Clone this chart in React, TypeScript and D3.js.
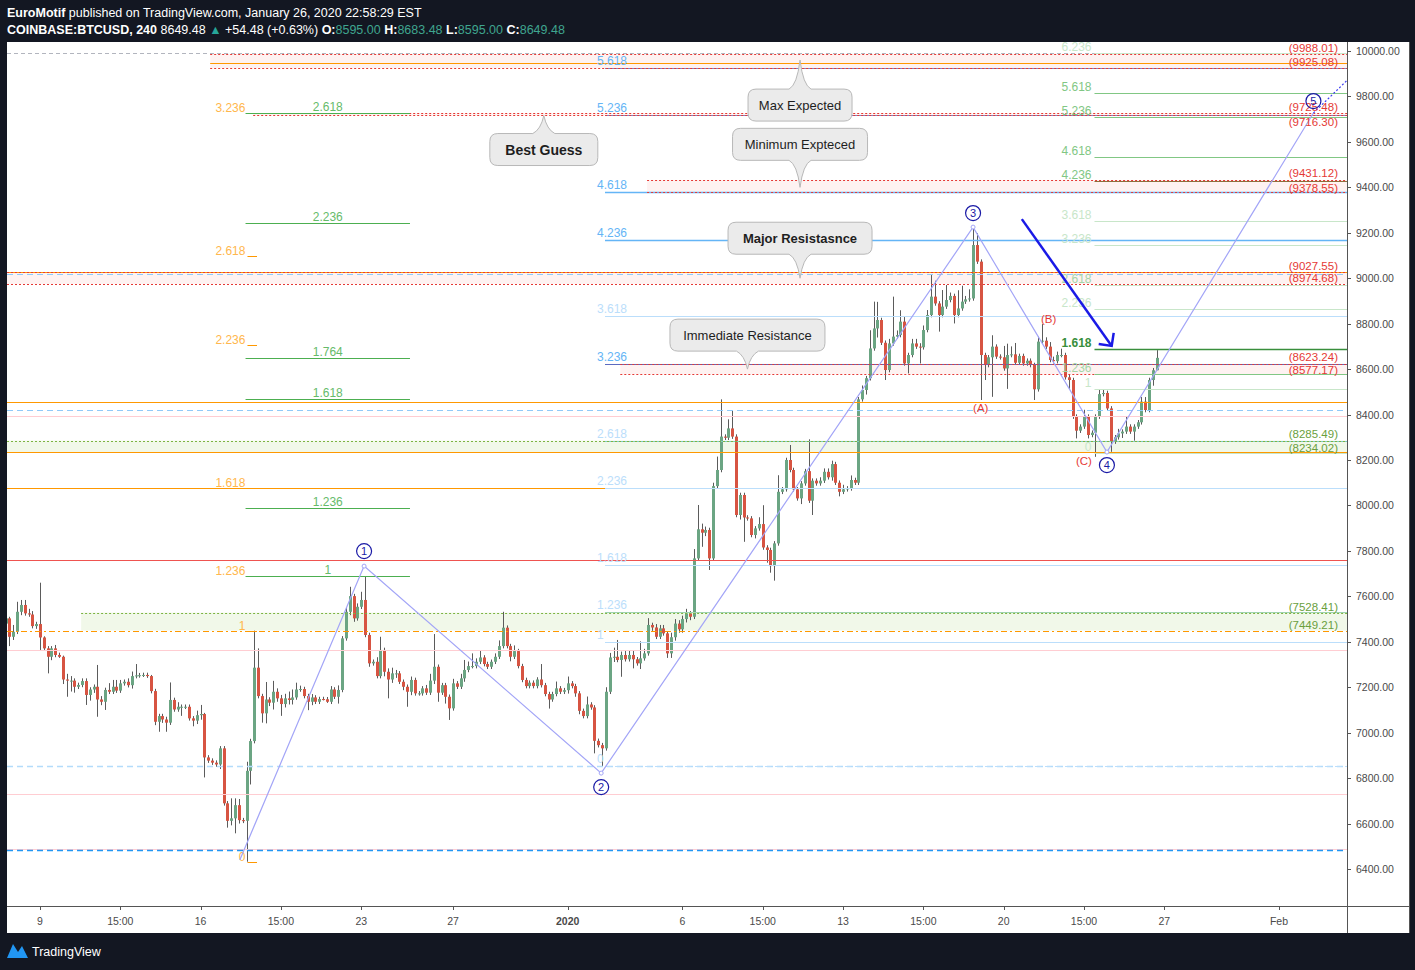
import React, { useEffect } from "react";
import * as d3 from "d3";

const W = 1415;
const H = 970;

// ---------------- candle data (4h bars, BTCUSD) ----------------
const FIRST_OPEN = 7480;
const LAST_BAR_TIME = Date.UTC(2020, 0, 26, 16);
const BAR_HOURS = 4;
const closes = [
  7503, 7422, 7444, 7532, 7562, 7525, 7520, 7469, 7478, 7419, 7371, 7334, 7371, 7342, 7334, 7234, 7229, 7229, 7202, 7210,
  7227, 7166, 7190, 7202, 7146, 7136, 7188, 7180, 7202, 7185, 7217, 7224, 7209, 7249, 7252, 7253, 7254, 7249, 7183, 7048,
  7073, 7058, 7044, 7144, 7102, 7114, 7114, 7114, 7063, 7053, 7077, 7082, 6891, 6877, 6868, 6860, 6931, 6689, 6612, 6623,
  6681, 6615, 6612, 6832, 6963, 7286, 7161, 7085, 7146, 7132, 7180, 7151, 7126, 7151, 7144, 7155, 7190, 7192, 7161, 7136,
  7155, 7136, 7148, 7147, 7136, 7190, 7158, 7188, 7415, 7532, 7601, 7503, 7554, 7584, 7430, 7305, 7312, 7249, 7364, 7268,
  7234, 7261, 7261, 7224, 7202, 7180, 7232, 7173, 7173, 7195, 7176, 7229, 7290, 7176, 7209, 7158, 7107, 7217, 7202, 7239,
  7276, 7293, 7293, 7312, 7331, 7302, 7290, 7312, 7334, 7381, 7462, 7381, 7334, 7359, 7293, 7232, 7205, 7220, 7205, 7234,
  7209, 7170, 7146, 7170, 7195, 7180, 7187, 7217, 7205, 7173, 7096, 7073, 7124, 7111, 6964, 6945, 6931, 7180, 7331, 7334,
  7320, 7342, 7323, 7342, 7323, 7305, 7327, 7349, 7474, 7463, 7422, 7459, 7437, 7349, 7420, 7480, 7455, 7500, 7525, 7510,
  7767, 7895, 7880, 7892, 7767, 8085, 8156, 8303, 8298, 8339, 8303, 7958, 8046, 7947, 7943, 7870, 7899, 7918, 7815, 7804,
  7733, 7833, 8060, 8071, 8200, 8156, 8071, 8031, 8097, 8151, 8021, 8109, 8097, 8109, 8148, 8124, 8182, 8100, 8060, 8071,
  8075, 8112, 8100, 8467, 8508, 8560, 8691, 8779, 8816, 8716, 8596, 8713, 8743, 8750, 8809, 8625, 8662, 8713, 8699, 8696,
  8772, 8838, 8919, 8889, 8838, 8875, 8904, 8922, 8838, 8867, 8897, 8907, 8911, 9146, 9073, 8662, 8618, 8652, 8699, 8655,
  8652, 8603, 8662, 8665, 8628, 8658, 8625, 8637, 8618, 8511, 8721, 8725, 8699, 8640, 8635, 8662, 8662, 8564, 8552, 8391,
  8329, 8347, 8391, 8310, 8320, 8391, 8490, 8495, 8427, 8281, 8300, 8317, 8325, 8347, 8325, 8347, 8366, 8457, 8420, 8552,
  8595, 8649.48,
];
const wickUp = [
  20, 7, 30, 44, 22, 22, 20, 15, 10, 182, 5, 10, 10, 15, 10, 5, 25, 20, 10, 10,
  12, 12, 10, 10, 96, 15, 10, 30, 30, 30, 15, 10, 15, 20, 50, 10, 10, 10, 5, 10,
  10, 10, 12, 77, 10, 20, 10, 10, 10, 10, 20, 40, 5, 10, 10, 10, 10, 10, 10, 88,
  30, 27, 10, 40, 10, 163, 85, 10, 77, 10, 48, 15, 15, 20, 30, 35, 30, 15, 10, 10,
  15, 10, 10, 10, 10, 15, 10, 20, 10, 20, 41, 10, 15, 36, 105, 10, 10, 20, 58, 10,
  15, 25, 15, 10, 10, 10, 15, 10, 10, 10, 15, 30, 144, 10, 10, 10, 10, 20, 10, 20,
  44, 20, 56, 15, 30, 10, 10, 10, 15, 25, 70, 10, 10, 25, 10, 10, 10, 10, 10, 10,
  68, 10, 10, 10, 30, 10, 10, 30, 10, 10, 10, 10, 35, 10, 10, 10, 10, 20, 20, 40,
  74, 15, 20, 20, 20, 10, 75, 20, 30, 10, 15, 15, 15, 10, 20, 20, 15, 15, 20, 10,
  41, 107, 25, 15, 10, 15, 59, 164, 10, 40, 78, 10, 10, 10, 10, 10, 10, 30, 83, 10,
  10, 10, 73, 10, 10, 66, 10, 10, 10, 10, 140, 10, 10, 15, 15, 15, 15, 10, 10, 20,
  10, 20, 10, 10, 20, 10, 80, 118, 80, 10, 10, 20, 176, 20, 50, 20, 10, 20, 20, 15,
  20, 22, 95, 70, 10, 73, 66, 15, 10, 80, 70, 15, 40, 81, 52, 10, 10, 10, 50, 10,
  10, 50, 50, 35, 50, 10, 10, 10, 10, 10, 22, 73, 15, 20, 15, 15, 28, 10, 10, 10,
  10, 10, 30, 10, 10, 10, 18, 15, 10, 10, 10, 20, 10, 43, 10, 10, 10, 20, 20, 10,
  10, 34,
];
const wickDown = [
  20, 41, 14, 10, 15, 10, 10, 10, 12, 55, 7, 73, 15, 10, 5, 20, 71, 48, 26, 10,
  10, 44, 25, 15, 76, 15, 36, 10, 10, 10, 10, 10, 10, 15, 10, 10, 8, 8, 10, 15,
  44, 15, 40, 10, 10, 10, 40, 10, 10, 25, 15, 20, 88, 10, 10, 10, 20, 10, 30, 20,
  66, 15, 10, 180, 60, 10, 10, 41, 44, 15, 30, 15, 52, 15, 20, 20, 10, 10, 10, 37,
  15, 10, 10, 5, 5, 10, 10, 30, 10, 10, 15, 15, 10, 10, 10, 15, 10, 10, 10, 20,
  83, 15, 20, 10, 15, 66, 15, 10, 10, 10, 10, 10, 15, 40, 10, 30, 51, 10, 10, 10,
  15, 10, 10, 10, 10, 10, 10, 10, 10, 10, 10, 10, 20, 10, 10, 10, 10, 10, 10, 10,
  10, 10, 40, 10, 10, 10, 10, 15, 10, 15, 15, 10, 10, 10, 55, 10, 81, 10, 10, 20,
  10, 74, 10, 10, 40, 10, 25, 10, 10, 15, 10, 10, 10, 20, 20, 15, 15, 15, 15, 15,
  10, 10, 62, 15, 51, 10, 10, 10, 10, 10, 10, 10, 20, 107, 10, 10, 15, 10, 10, 56,
  29, 64, 10, 10, 10, 10, 10, 10, 25, 10, 10, 63, 10, 10, 10, 10, 15, 10, 20, 10,
  10, 10, 10, 10, 10, 20, 10, 10, 40, 10, 44, 10, 10, 10, 10, 10, 44, 10, 10, 71,
  10, 10, 10, 10, 73, 10, 10, 10, 37, 10, 10, 10, 10, 10, 10, 198, 66, 10, 174, 10,
  10, 10, 90, 10, 10, 10, 10, 10, 10, 47, 10, 10, 10, 10, 10, 10, 10, 10, 40, 10,
  34, 10, 10, 15, 10, 106, 10, 10, 10, 45, 10, 10, 20, 10, 10, 40, 10, 10, 10, 10,
  25, 0,
];

// ---------------- axes ----------------
const priceTicks = [6400, 6600, 6800, 7000, 7200, 7400, 7600, 7800, 8000, 8200, 8400, 8600, 8800, 9000, 9200, 9400, 9600, 9800, 10000];
const timeTickDates = [
  Date.UTC(2019, 11, 9), Date.UTC(2019, 11, 12, 12), Date.UTC(2019, 11, 16), Date.UTC(2019, 11, 19, 12),
  Date.UTC(2019, 11, 23), Date.UTC(2019, 11, 27), Date.UTC(2020, 0, 1), Date.UTC(2020, 0, 6),
  Date.UTC(2020, 0, 9, 12), Date.UTC(2020, 0, 13), Date.UTC(2020, 0, 16, 12), Date.UTC(2020, 0, 20),
  Date.UTC(2020, 0, 23, 12), Date.UTC(2020, 0, 27), Date.UTC(2020, 1, 1),
];
const timeTickLabels = ["9", "15:00", "16", "15:00", "23", "27", "2020", "6", "15:00", "13", "15:00", "20", "15:00", "27", "Feb"];

// ---------------- Elliott wave count ----------------
const waveDates = [Date.UTC(2019, 11, 17, 17), Date.UTC(2019, 11, 23, 3), Date.UTC(2020, 0, 2, 11), Date.UTC(2020, 0, 18, 16), Date.UTC(2020, 0, 24, 12), Date.UTC(2020, 1, 2, 12)];
const wavePrices = [6440, 7733, 6822, 9225, 8235, 9727];
const waveNames = ["", "1", "2", "3", "4", "5"];
const waveExtDate = Date.UTC(2020, 1, 3, 23);
const waveExtPrice = 9870;

const abcNames = ["(A)", "(B)", "(C)"];
const abcDates = [Date.UTC(2020, 0, 19, 0), Date.UTC(2020, 0, 21, 23), Date.UTC(2020, 0, 23, 12)];
const abcPrices = [8429, 8820, 8196];

const arrowDates = [Date.UTC(2020, 0, 20, 19), Date.UTC(2020, 0, 24, 17)];
const arrowPrices = [9260, 8702];

// ---------------- zones ----------------
const CHART_START = Date.UTC(2019, 11, 1);
const redZoneTop = [9988.01, 9725.48, 9431.12, 9027.55, 8623.24];
const redZoneBottom = [9925.08, 9716.3, 9378.55, 8974.68, 8577.17];
const redZoneStart = [Date.UTC(2019, 11, 16, 10), Date.UTC(2019, 11, 18, 7), Date.UTC(2020, 0, 4, 11), CHART_START, Date.UTC(2020, 0, 3, 7)];
const greenZoneTop = [8285.49, 7528.41];
const greenZoneBottom = [8234.02, 7449.21];
const greenZoneStart = [CHART_START, Date.UTC(2019, 11, 10, 19)];

// ---------------- horizontal lines ----------------
const orangeLinePrices = [9945, 9027.55, 8455, 8234.02, 8078.5];
const orangeLineStart = [Date.UTC(2019, 11, 16, 10), CHART_START, CHART_START, CHART_START, CHART_START];
const orangeDashDotPrices = [7449.21];
const blueDashedPrices = [9018, 8420];
const lightBlueDashedPrices = [6853];
const strongBlueDashedPrices = [6483];
const pinkLinePrices = [8394, 7364, 6730, 6489];
const redLinePrices = [7760];
const grayDashedPrices = [9992];

// ---------------- Fibonacci tools ----------------
const blueFibRatios = [0, 1, 1.236, 1.618, 2.236, 2.618, 3.236, 3.618, 4.236, 4.618, 5.236, 5.618];
const blueFibAnchors = [6854.67, 7401.2];
const blueFibStart = Date.UTC(2020, 0, 2, 15);

const orangeFibRatios = [0, 1, 1.236, 1.618, 2.236, 2.618, 3.236];
const orangeFibAnchors = [6431.2, 7449.21];
const orangeFibStart = Date.UTC(2019, 11, 18, 1);
const orangeFibEnd = Date.UTC(2019, 11, 18, 11);

const leftGreenFibRatios = [1, 1.236, 1.618, 1.764, 2.236, 2.618];
const leftGreenFibAnchors = [6431.2, 7689.6];
const leftGreenFibStart = Date.UTC(2019, 11, 17, 23);
const leftGreenFibEnd = Date.UTC(2019, 11, 25, 3);

const rightFibRatios = [0, 1, 1.236, 1.618, 2.236, 2.618, 3.236, 3.618, 4.236, 4.618, 5.236, 5.618, 6.236];
const rightFibAnchors = [8232, 8514];
const rightFibStart = Date.UTC(2020, 0, 23, 23);

// ---------------- callouts ----------------
const calloutTexts = ["Best Guess", "Max Expected", "Minimum Expteced", "Major Resistasnce", "Immediate Resistance"];
const calloutTipDates = [Date.UTC(2019, 11, 30, 23), Date.UTC(2020, 0, 11, 3), Date.UTC(2020, 0, 11, 3), Date.UTC(2020, 0, 11, 3), Date.UTC(2020, 0, 8, 20)];
const calloutTipPrices = [9716, 9960, 9400, 9000, 8600];

// ---------------- styles ----------------
const FONT = "'Liberation Sans', Arial, sans-serif";
const UP = "#6ba583";
const DOWN = "#d75442";
const WICK = "#5b5b5b";
const calloutStyle = [
  { off: 34, w: 108, bold: true, size: 14 },
  { off: 45, w: 104, bold: false, size: 13 },
  { off: -43, w: 135, bold: false, size: 13 },
  { off: -40, w: 144, bold: true, size: 13 },
  { off: -34, w: 155, bold: false, size: 13 },
];
const waveLabelOffset = [0, -15, 14, -14, 13, -12];
const blueFibLabelColor = ["#bbdefb", "#bbdefb", "#bbdefb", "#bbdefb", "#bbdefb", "#bbdefb", "#64b5f6", "#bbdefb", "#64b5f6", "#64b5f6", "#64b5f6", "#64b5f6"];
const blueFibLineColor = ["#bbdefb", "#bbdefb", "#9fd3b0", "#bbdefb", "#bbdefb", "#80cbc4", "#5c6bc0", "#bbdefb", "#64b5f6", "#64b5f6", "#7986cb", "#7986cb"];
const rightFibLabelColor = ["#c8e6c9", "#c8e6c9", "#a5d6a7", "#388e3c", "#c8e6c9", "#a5d6a7", "#c8e6c9", "#c8e6c9", "#81c784", "#81c784", "#81c784", "#81c784", "#c8e6c9"];
const rightFibLineColor = ["#c8e6c9", "#c8e6c9", "#81c784", "#388e3c", "#c8e6c9", "#c8e6c9", "#c8e6c9", "#c8e6c9", "#8d6e3c", "#81c784", "#81c784", "#81c784", "#c8e6c9"];

function calloutPath(cx: number, cy: number, w: number, h: number, r: number, tx: number, ty: number, b: number) {
  const x0 = cx - w / 2, y0 = cy - h / 2, x1 = cx + w / 2, y1 = cy + h / 2;
  const up = ty < y0;
  let d = `M${x0 + r},${y0}`;
  if (up) d += `L${tx - b},${y0}Q${tx - 3},${y0 - 4} ${tx},${ty}Q${tx + 3},${y0 - 4} ${tx + b},${y0}`;
  d += `L${x1 - r},${y0}Q${x1},${y0} ${x1},${y0 + r}L${x1},${y1 - r}Q${x1},${y1} ${x1 - r},${y1}`;
  if (!up) d += `L${tx + b},${y1}Q${tx + 3},${y1 + 4} ${tx},${ty}Q${tx - 3},${y1 + 4} ${tx - b},${y1}`;
  d += `L${x0 + r},${y1}Q${x0},${y1} ${x0},${y1 - r}L${x0},${y0 + r}Q${x0},${y0} ${x0 + r},${y0}Z`;
  return d;
}

export default function App() {
  useEffect(() => {
    document.body.style.margin = "0";
    document.body.style.background = "#131722";
  }, []);

  const PL = 7, PR = 1347, PT = 42, PB = 906;
  const x = d3.scaleUtc().domain([Date.UTC(2019, 11, 9), Date.UTC(2020, 1, 1)]).range([40, 1279]);
  const y = d3.scaleLinear().domain([6400, 10000]).range([869, 51]);
  const xs = (t: number) => Math.max(PL, x(t));

  const n = closes.length;
  const candles = closes.map((c, i) => {
    const o = i === 0 ? FIRST_OPEN : closes[i - 1];
    const t = LAST_BAR_TIME - (n - 1 - i) * BAR_HOURS * 3600e3;
    return { t, o, c, h: Math.max(o, c) + wickUp[i], l: Math.min(o, c) - wickDown[i] };
  });

  const fibPrice = (anchors: number[], r: number) => anchors[0] + r * (anchors[1] - anchors[0]);
  const wavePath = d3.line<number>().x((i) => x(waveDates[i])).y((i) => y(wavePrices[i]))(d3.range(waveDates.length)) || "";

  const hline = (p: number, x0: number, stroke: string, dash?: string, sw = 1, key?: string) => (
    <line key={key} x1={x0} x2={PR} y1={Math.round(y(p)) + 0.5} y2={Math.round(y(p)) + 0.5} stroke={stroke} strokeWidth={sw} strokeDasharray={dash} />
  );

  const ax = x(arrowDates[0]), ay = y(arrowPrices[0]), bx = x(arrowDates[1]), by = y(arrowPrices[1]);

  const zoneLabelY = (top: number, bottom: number) => {
    const gap = y(bottom) - y(top);
    if (gap < 6) return [y(top) - 2, y(bottom) + 11];
    if (gap < 12) return [y(top) - 3, y(bottom) - 0.5];
    return [y(top) - 2, y(bottom) - 2];
  };

  return (
    <svg width={W} height={H} style={{ position: "absolute", left: 0, top: 0, display: "block" }} fontFamily={FONT}>
      <defs>
        <clipPath id="plot">
          <rect x={PL} y={PT} width={PR - PL} height={PB - PT} />
        </clipPath>
      </defs>
      <rect width={W} height={H} fill="#131722" />
      <rect x={PL} y={PT} width={1410 - PL} height={933 - PT} fill="#ffffff" />

      {/* header */}
      <text x={7} y={17} fill="#ffffff" fontSize={12.5}>
        <tspan fontWeight="bold">EuroMotif</tspan>
        <tspan> published on TradingView.com, January 26, 2020 22:58:29 EST</tspan>
      </text>
      <text x={7} y={34} fill="#ffffff" fontSize={12.5}>
        <tspan fontWeight="bold">COINBASE:BTCUSD, 240</tspan>
        <tspan> 8649.48 </tspan>
        <tspan fill="#26a69a">▲</tspan>
        <tspan> +54.48 (+0.63%) </tspan>
        <tspan fontWeight="bold">O:</tspan>
        <tspan fill="#3fa58f">8595.00</tspan>
        <tspan fontWeight="bold"> H:</tspan>
        <tspan fill="#3fa58f">8683.48</tspan>
        <tspan fontWeight="bold"> L:</tspan>
        <tspan fill="#3fa58f">8595.00</tspan>
        <tspan fontWeight="bold"> C:</tspan>
        <tspan fill="#3fa58f">8649.48</tspan>
      </text>

      <g clipPath="url(#plot)">
        {/* zone fills */}
        {redZoneTop.map((p, i) => (
          <rect key={"rz" + i} x={xs(redZoneStart[i])} y={y(p)} width={PR - xs(redZoneStart[i])} height={y(redZoneBottom[i]) - y(p)} fill="#f44336" fillOpacity={0.07} />
        ))}
        {greenZoneTop.map((p, i) => (
          <rect key={"gz" + i} x={xs(greenZoneStart[i])} y={y(p)} width={PR - xs(greenZoneStart[i])} height={y(greenZoneBottom[i]) - y(p)} fill="#8bc34a" fillOpacity={0.12} />
        ))}

        {/* candles */}
        {candles.map((d, i) => {
          const cx = Math.round(x(d.t));
          const col = d.c >= d.o ? UP : DOWN;
          const yt = y(Math.max(d.o, d.c));
          const yb = y(Math.min(d.o, d.c));
          return (
            <g key={"c" + i}>
              <line x1={cx + 0.5} x2={cx + 0.5} y1={y(d.h)} y2={y(d.l)} stroke={WICK} strokeWidth={1} />
              <rect x={cx - 1} y={yt} width={3} height={Math.max(1, yb - yt)} fill={col} />
            </g>
          );
        })}

        {/* plain horizontal lines */}
        {grayDashedPrices.map((p, i) => hline(p, PL, "#b2b5be", "4,3", 1, "gd" + i))}
        {pinkLinePrices.map((p, i) => hline(p, PL, "#ffcdd2", undefined, 1, "pk" + i))}
        {redLinePrices.map((p, i) => hline(p, PL, "#ef5350", undefined, 1, "rl" + i))}
        {blueDashedPrices.map((p, i) => hline(p, PL, "#90caf9", "6,4", 1, "bd" + i))}
        {lightBlueDashedPrices.map((p, i) => hline(p, PL, "#b3dcfb", "6,4", 1.3, "lbd" + i))}
        {strongBlueDashedPrices.map((p, i) => hline(p, PL, "#2196f3", "6,4", 1.3, "sbd" + i))}
        {orangeLinePrices.map((p, i) => hline(p, xs(orangeLineStart[i]), "#ff9800", undefined, 1.2, "ol" + i))}
        {orangeDashDotPrices.map((p, i) => hline(p, PL, "#ff9800", "6,3,2,3", 1.2, "odd" + i))}

        {/* blue fib */}
        {blueFibRatios.map((r, i) => {
          const p = fibPrice(blueFibAnchors, r);
          const x0 = x(blueFibStart);
          return (
            <g key={"bf" + i}>
              {hline(p, x0, blueFibLineColor[i], r === 0 ? "6,4" : undefined, r === 4.618 || r === 4.236 ? 1.3 : 1)}
              <text x={x0 - 8} y={y(p) - 3} fill={blueFibLabelColor[i]} fontSize={12}>{String(r)}</text>
            </g>
          );
        })}

        {/* zone borders */}
        {redZoneTop.map((p, i) => (
          <g key={"rzb" + i}>
            {hline(p, xs(redZoneStart[i]), "#e53935", "2,2")}
            {hline(redZoneBottom[i], xs(redZoneStart[i]), "#e53935", "2,2")}
          </g>
        ))}
        {greenZoneTop.map((p, i) => (
          <g key={"gzb" + i}>{hline(p, xs(greenZoneStart[i]), "#7cb342", "2,2")}</g>
        ))}

        {/* orange fib (narrow) */}
        {orangeFibRatios.map((r, i) => {
          const p = fibPrice(orangeFibAnchors, r);
          const yy = Math.round(y(p)) + 0.5;
          return (
            <g key={"of" + i}>
              <line x1={x(orangeFibStart)} x2={x(orangeFibEnd)} y1={yy} y2={yy} stroke="#ff9800" strokeWidth={1} />
              <text x={x(orangeFibStart) - 2} y={yy - 2} textAnchor="end" fill="#ffb74d" fontSize={12}>{String(r)}</text>
            </g>
          );
        })}

        {/* left green fib */}
        {leftGreenFibRatios.map((r, i) => {
          const p = fibPrice(leftGreenFibAnchors, r);
          const yy = Math.round(y(p)) + 0.5;
          const x0 = x(leftGreenFibStart), x1 = x(leftGreenFibEnd);
          return (
            <g key={"lg" + i}>
              <line x1={x0} x2={x1} y1={yy} y2={yy} stroke="#4caf50" strokeWidth={1} />
              <text x={(x0 + x1) / 2} y={yy - 3} textAnchor="middle" fill="#66bb6a" fontSize={12}>{String(r)}</text>
            </g>
          );
        })}

        {/* right green fib */}
        {rightFibRatios.map((r, i) => {
          const p = fibPrice(rightFibAnchors, r);
          const yy = Math.round(y(p)) + 0.5;
          const x0 = x(rightFibStart);
          return (
            <g key={"rg" + i}>
              <line x1={x0} x2={PR} y1={yy} y2={yy} stroke={rightFibLineColor[i]} strokeWidth={r === 1.618 ? 1.3 : 1} />
              <text x={x0 - 3} y={yy - 3} textAnchor="end" fill={rightFibLabelColor[i]} fontSize={12} fontWeight={r === 1.618 ? "bold" : "normal"}>{String(r)}</text>
            </g>
          );
        })}

        {/* wave zigzag */}
        <path d={wavePath} fill="none" stroke="#a3a5f7" strokeWidth={1.2} />
        <line x1={x(waveDates[5])} y1={y(wavePrices[5])} x2={x(waveExtDate)} y2={y(waveExtPrice)} stroke="#3d3df0" strokeWidth={1.2} strokeDasharray="2,2" />
        {waveDates.map((t, i) => i > 0 && i < 5 ? (
          <circle key={"wp" + i} cx={x(t)} cy={y(wavePrices[i])} r={2} fill="#fff" stroke="#a3a5f7" />
        ) : null)}

        {/* zone price labels */}
        {redZoneTop.map((p, i) => {
          const [ly1, ly2] = zoneLabelY(p, redZoneBottom[i]);
          return (
            <g key={"rzl" + i}>
              <text x={1338} y={ly1} textAnchor="end" fill="#e53935" fontSize={11.5}>({p.toFixed(2)})</text>
              <text x={1338} y={ly2} textAnchor="end" fill="#e53935" fontSize={11.5}>({redZoneBottom[i].toFixed(2)})</text>
            </g>
          );
        })}
        {greenZoneTop.map((p, i) => {
          const [ly1, ly2] = zoneLabelY(p, greenZoneBottom[i]);
          return (
            <g key={"gzl" + i}>
              <text x={1338} y={ly1} textAnchor="end" fill="#6a9f3e" fontSize={11.5}>({p.toFixed(2)})</text>
              <text x={1338} y={ly2} textAnchor="end" fill="#6a9f3e" fontSize={11.5}>({greenZoneBottom[i].toFixed(2)})</text>
            </g>
          );
        })}

        {waveNames.map((nm, i) => nm ? (
          <g key={"wl" + i}>
            <circle cx={x(waveDates[i])} cy={y(wavePrices[i]) + waveLabelOffset[i]} r={7.5} fill="none" stroke="#1a1aa6" strokeWidth={1.2} />
            <text x={x(waveDates[i])} y={y(wavePrices[i]) + waveLabelOffset[i] + 4} textAnchor="middle" fill="#1a1aa6" fontSize={11}>{nm}</text>
          </g>
        ) : null)}
        {abcNames.map((nm, i) => (
          <text key={"abc" + i} x={x(abcDates[i])} y={y(abcPrices[i]) + 4} textAnchor="middle" fill="#e53935" fontSize={11.5}>{nm}</text>
        ))}

        {/* blue arrow */}
        <line x1={ax} y1={ay} x2={bx} y2={by} stroke="#1a1ae6" strokeWidth={2.5} />
        <path d={`M${bx - 13},${by - 2} L${bx},${by} L${bx + 2},${by - 13}`} fill="none" stroke="#1a1ae6" strokeWidth={2.5} />

        {/* callouts */}
        {calloutTexts.map((txt, i) => {
          const st = calloutStyle[i];
          const tx = x(calloutTipDates[i]);
          const ty = y(calloutTipPrices[i]);
          const cy = ty + st.off;
          return (
            <g key={"co" + i}>
              <path d={calloutPath(tx, cy, st.w, 32, 8, tx, ty, 11)} fill="#ebebeb" stroke="#b8b8b8" strokeWidth={1} />
              <text x={tx} y={cy + 5} textAnchor="middle" fill="#1e1e1e" fontSize={st.size} fontWeight={st.bold ? "bold" : "normal"}>{txt}</text>
            </g>
          );
        })}
      </g>

      {/* axes frame */}
      <line x1={PR + 0.5} x2={PR + 0.5} y1={PT} y2={933} stroke="#555" />
      <line x1={PL} x2={1410} y1={PB + 0.5} y2={PB + 0.5} stroke="#555" />
      <line x1={1409.5} x2={1409.5} y1={PT} y2={933} stroke="#555" />
      {priceTicks.map((p) => (
        <g key={"pt" + p}>
          <line x1={PR} x2={PR + 4} y1={Math.round(y(p)) + 0.5} y2={Math.round(y(p)) + 0.5} stroke="#555" />
          <text x={1356} y={y(p) + 4} fill="#4a4a4a" fontSize={10.5}>{p.toFixed(2)}</text>
        </g>
      ))}
      {timeTickDates.map((t, i) => (
        <g key={"tt" + i}>
          <line x1={Math.round(x(t)) + 0.5} x2={Math.round(x(t)) + 0.5} y1={PB} y2={PB + 4} stroke="#555" />
          <text x={x(t)} y={925} textAnchor="middle" fill="#4a4a4a" fontSize={10.5} fontWeight={timeTickLabels[i] === "2020" ? "bold" : "normal"}>{timeTickLabels[i]}</text>
        </g>
      ))}

      {/* footer logo */}
      <path d="M7,958 L13,944 L18,952 L22,946 L28,958 Z" fill="#2196f3" />
      <text x={32} y={956} fill="#ffffff" fontSize={12.5}>TradingView</text>
    </svg>
  );
}
